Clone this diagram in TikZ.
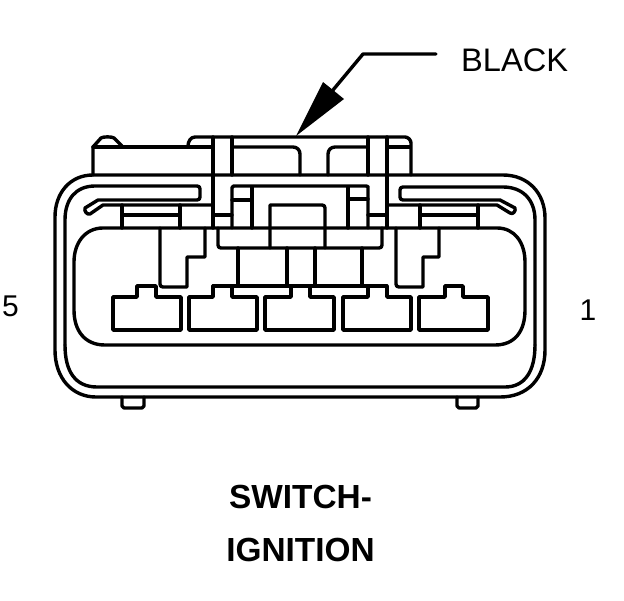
\documentclass[tikz,border=0pt]{standalone}
\usepackage{fontspec}
\setmainfont{Liberation Sans}
\tikzset{
  ln/.style={draw=black,line width=3.4pt,line join=round,line cap=round},
  pin/.style={inner sep=0pt,font=\fontsize{30}{30}\selectfont},
  lbl/.style={inner sep=0pt,font=\fontsize{32.6}{33}\selectfont},
  ttl/.style={inner sep=0pt,font=\bfseries\fontsize{33.4}{34}\selectfont}
}
\begin{document}
\begin{tikzpicture}[x=1pt,y=-1pt]
\useasboundingbox (0,0) rectangle (624,600);
% outer housing
\draw[ln] (93,175) -- (503,175) .. controls (528,175) and (545,193) .. (545,218) -- (545,350)
  .. controls (545,378) and (528,397) .. (500,397) -- (96,397)
  .. controls (72,397) and (55,378) .. (55,350) -- (55,217) .. controls (55,193) and (70,175) .. (93,175);
% inner housing, left slot
\draw[ln] (65,345) -- (65,220) .. controls (65,199) and (76,186) .. (95,186) -- (197,186)
  .. controls (199,186) and (200,187) .. (200,189) -- (200,197) .. controls (200,199) and (199,200) .. (197,200) -- (98,200)
  -- (85,208) .. controls (84,211) and (87,215) .. (90,214) -- (103,205) -- (213,205);
% inner housing, right slot
\draw[ln] (535,345) -- (535,220) .. controls (535,199) and (522,187) .. (503,187) -- (403,187)
  .. controls (401,187) and (400,188) .. (400,190) -- (400,197) .. controls (400,199) and (401,200) .. (403,200) -- (500,200)
  -- (515,208) .. controls (516,211) and (513,215) .. (510,213) -- (497,205) -- (387,205);
% inner housing, bottom
\draw[ln] (65,345) .. controls (65,371) and (75,387) .. (97,387) -- (505,387)
  .. controls (525,387) and (535,371) .. (535,345);
% window
\draw[ln] (103,228) -- (497,228) .. controls (515,228) and (525,243) .. (525,262) -- (525,310)
  .. controls (525,331) and (515,345) .. (495,345) -- (105,345)
  .. controls (85,345) and (74,331) .. (74,310) -- (74,262) .. controls (74,243) and (85,228) .. (103,228);
% top block
\draw[ln] (93,175) -- (93,147) -- (101,138) .. controls (103,136.5) and (112,136.5) .. (114,138) -- (122,146);
\draw[ln] (93,147) -- (213,147);
\draw[ln] (188,146) .. controls (188,141) and (191,137) .. (195,137) -- (405,137)
  .. controls (408,137) and (411,140) .. (411,143) -- (411,175);
\draw[ln] (232,147) -- (293,147) .. controls (297,147) and (300,150) .. (300,154) -- (300,175);
\draw[ln] (328,175) -- (328,154) .. controls (328,150) and (331,147) .. (335,147) -- (368,147);
\draw[ln] (387,147) -- (410,147);
% verticals
\draw[ln] (213,137) -- (213,228);
\draw[ln] (232,137) -- (232,175);
\draw[ln] (368,137) -- (368,175);
\draw[ln] (387,137) -- (387,228);
\draw[ln] (213,215) -- (232,215);
\draw[ln] (368,215) -- (387,215);
\draw[ln] (368,228) -- (368,187) .. controls (368,187) and (368,186) .. (366,186) -- (234,186)
  .. controls (233,186) and (232,187) .. (232,188) -- (232,228);
\draw[ln] (252,187) -- (252,228);
\draw[ln] (348,187) -- (348,228);
\draw[ln] (232,200) -- (252,200);
\draw[ln] (348,199) -- (368,199);
% centre box
\draw[ln] (270,248) -- (270,205) -- (322,205) .. controls (324,205) and (325,206) .. (325,208) -- (325,248);
% side clips
\draw[ln] (122,205) -- (122,228);
\draw[ln] (180,205) -- (180,228);
\draw[ln] (122,215) -- (180,215);
\draw[ln] (420,205) -- (420,228);
\draw[ln] (478,205) -- (478,228);
\draw[ln] (420,215) -- (478,215);
% bar
\draw[ln] (218,228) -- (218,245) .. controls (218,247) and (219,248) .. (221,248) -- (379,248)
  .. controls (381,248) and (382,247) .. (382,245) -- (382,228);
\draw[ln] (238,248) -- (238,286);
\draw[ln] (287,248) -- (287,286);
\draw[ln] (315,248) -- (315,286);
\draw[ln] (362,248) -- (362,286);
% L-shapes
\draw[ln] (160,228) -- (160,284) .. controls (160,286) and (161,287) .. (163,287) -- (187,287) -- (187,257) -- (205,257) -- (205,228);
\draw[ln] (396,228) -- (396,284) .. controls (396,286) and (397,287) .. (399,287) -- (423,287) -- (423,257) -- (439,257) -- (439,228);
% terminals
\draw[ln] (113,297) -- (137,297) -- (137,286) -- (156,286) -- (156,297) -- (181,297) -- (181,330) -- (113,330) -- cycle;
\draw[ln] (189,297) -- (213,297) -- (213,286) -- (232,286) -- (232,297) -- (257,297) -- (257,330) -- (189,330) -- cycle;
\draw[ln] (265,297) -- (291,297) -- (291,286) -- (310,286) -- (310,297) -- (334,297) -- (334,330) -- (265,330) -- cycle;
\draw[ln] (343,297) -- (368,297) -- (368,286) -- (387,286) -- (387,297) -- (411,297) -- (411,330) -- (343,330) -- cycle;
\draw[ln] (419,297) -- (445,297) -- (445,286) -- (463,286) -- (463,297) -- (488,297) -- (488,330) -- (419,330) -- cycle;
\draw[ln] (213,286) -- (387,286);
% feet
\draw[ln] (122,397) -- (122,406) -- (124,408) -- (142,408) -- (144,406) -- (144,397);
\draw[ln] (457,397) -- (457,406) -- (459,408) -- (476,408) -- (478,406) -- (478,397);
% labels
\node[lbl,anchor=base west] (black) at (461,71) {BLACK};
\node[pin,anchor=base] (pinfive) at (10.5,316) {5};
\node[pin,anchor=base] (pinone) at (588,320) {1};
\node[ttl,anchor=base] (titlea) at (300.5,508) {SWITCH-};
\node[ttl,anchor=base] (titleb) at (300.5,561) {IGNITION};
% leader
\coordinate (leadstart) at (436,54);
\coordinate (leadbend) at (363,54);
\coordinate (leadneck) at (333,90);
\coordinate (tip) at (296,136);
\draw[ln] (leadstart) -- (leadbend) -- (leadneck);
\fill[black] (tip) -- (323,82) -- (leadneck) -- (344,99) -- cycle;
\end{tikzpicture}
\end{document}
